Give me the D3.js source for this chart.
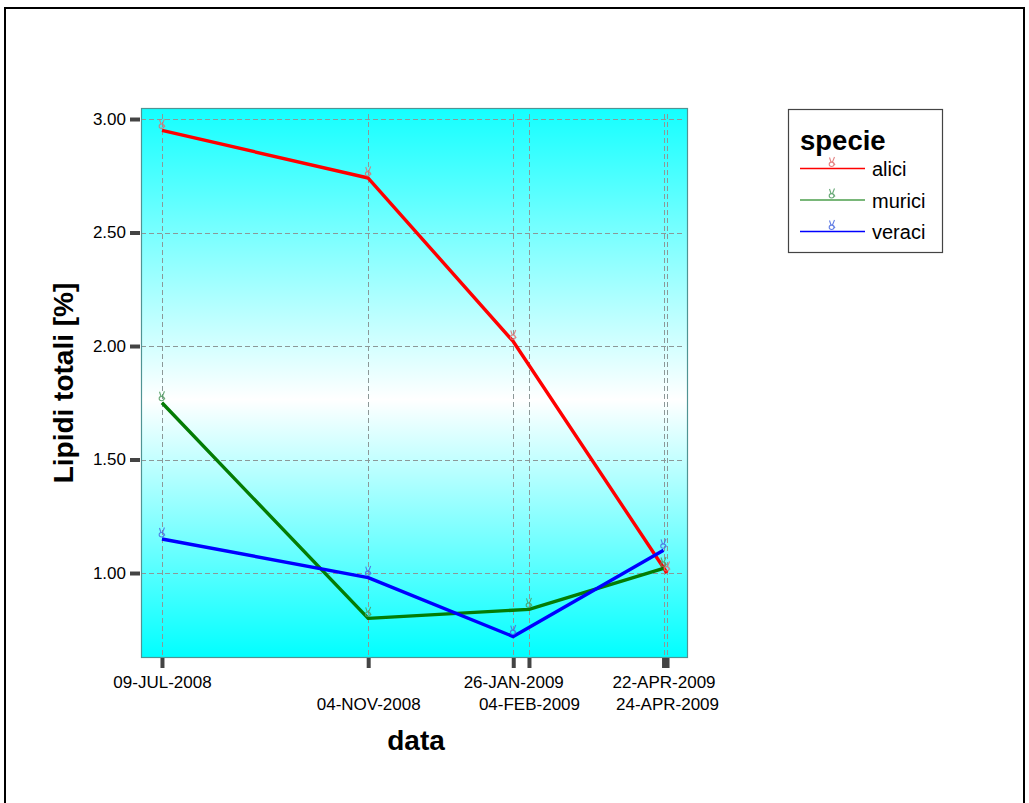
<!DOCTYPE html>
<html>
<head>
<meta charset="utf-8">
<script src="https://cdn.jsdelivr.net/npm/d3@7"></script>
<style>
  html, body { margin: 0; padding: 0; background: #fff; }
  svg { display: block; font-family: "Liberation Sans", Arial, sans-serif; }
</style>
</head>
<body>
<svg id="chart" width="1029" height="803"></svg>
<script>
// Sampling dates (x axis ticks)
const tickDates = ["2008-07-09", "2008-11-04", "2009-01-26", "2009-02-04", "2009-04-22", "2009-04-24"];
const tickLabels = ["09-JUL-2008", "04-NOV-2008", "26-JAN-2009", "04-FEB-2009", "22-APR-2009", "24-APR-2009"];
const yTicks = [1.0, 1.5, 2.0, 2.5, 3.0];

// Series: total lipids [%] per species
const speciesNames = ["alici", "murici", "veraci"];
const speciesColors = ["#ff0000", "#047c04", "#0000ff"];
const legendColors = ["#ff0000", "#4c9f4c", "#0000ff"];
const markerColors = ["#e07070", "#4f9a5f", "#4a6ae0"];
const aliciDates = ["2008-07-09", "2008-11-04", "2009-01-26", "2009-04-24"];
const aliciValues = [2.95, 2.74, 2.02, 1.00];
const muriciDates = ["2008-07-09", "2008-11-04", "2009-02-04", "2009-04-22"];
const muriciValues = [1.75, 0.80, 0.84, 1.02];
const veraciDates = ["2008-07-09", "2008-11-04", "2009-01-26", "2009-04-22"];
const veraciValues = [1.15, 0.98, 0.72, 1.10];

const parse = d3.utcParse("%Y-%m-%d");
const seriesDates = [aliciDates, muriciDates, veraciDates];
const seriesValues = [aliciValues, muriciValues, veraciValues];
const series = speciesNames.map((name, i) => ({
  name,
  color: speciesColors[i],
  marker: markerColors[i],
  points: seriesDates[i].map((d, j) => ({ date: parse(d), value: seriesValues[i][j] }))
}));

// Small "victory hand" point glyph, drawn above its anchor point
const markerPath = "M-2.5,-10 L-1,-5.5 M2.5,-10.5 L0.5,-5.5 M-2.8,-3.2 a2.4,2.2 0 1,0 4.8,0 a2.4,2.2 0 1,0 -4.8,0 M1.8,-4.5 L3,-2.5";

const svg = d3.select("#chart");

// Outer frame
svg.append("rect")
  .attr("x", 5).attr("y", 8).attr("width", 1019).attr("height", 810)
  .attr("fill", "none").attr("stroke", "#000").attr("stroke-width", 2);

const plot = { left: 141, top: 108, right: 688, bottom: 658 };

const x = d3.scaleUtc()
  .domain([parse("2008-06-27"), parse("2009-05-06")])
  .range([plot.left, plot.right]);
const y = d3.scaleLinear()
  .domain([0.6256, 3.0485])
  .range([plot.bottom, plot.top]);

// Background gradient
const defs = svg.append("defs");
const grad = defs.append("linearGradient")
  .attr("id", "bg").attr("x1", 0).attr("y1", 0).attr("x2", 0).attr("y2", 1);
grad.append("stop").attr("offset", "0%").attr("stop-color", "#14ffff");
grad.append("stop").attr("offset", "53%").attr("stop-color", "#ffffff");
grad.append("stop").attr("offset", "100%").attr("stop-color", "#00ffff");

svg.append("rect")
  .attr("x", plot.left).attr("y", plot.top)
  .attr("width", plot.right - plot.left).attr("height", plot.bottom - plot.top)
  .attr("fill", "url(#bg)");

// Grid lines
const grid = svg.append("g")
  .attr("stroke", "#8c9898").attr("stroke-width", 1).attr("stroke-dasharray", "5,3");
grid.selectAll("line.h").data(yTicks).join("line")
  .attr("x1", plot.left).attr("x2", plot.right - 6)
  .attr("y1", d => Math.round(y(d)) + 0.5).attr("y2", d => Math.round(y(d)) + 0.5);
grid.selectAll("line.v").data(tickDates).join("line")
  .attr("x1", d => Math.round(x(parse(d))) + 0.5).attr("x2", d => Math.round(x(parse(d))) + 0.5)
  .attr("y1", plot.top + 6).attr("y2", plot.bottom);

// Plot frame
svg.append("rect")
  .attr("x", plot.left + 0.5).attr("y", plot.top + 0.5)
  .attr("width", plot.right - plot.left - 1).attr("height", plot.bottom - plot.top - 1)
  .attr("fill", "none").attr("stroke", "#4f9494").attr("stroke-width", 1.2);

// Y axis
const yAxis = svg.append("g").attr("transform", `translate(${plot.left - 1},0)`)
  .call(d3.axisLeft(y).tickValues(yTicks).tickFormat(d3.format(".2f")).tickSize(10).tickPadding(4));
yAxis.select(".domain").remove();
yAxis.selectAll(".tick line").attr("stroke", "#444").attr("stroke-width", 4);
yAxis.selectAll(".tick text").attr("font-size", 17).attr("fill", "#000")
  .attr("font-family", "Liberation Sans, Arial, sans-serif");

// X axis with staggered labels
const xAxis = svg.append("g").attr("transform", `translate(0,${plot.bottom})`)
  .call(d3.axisBottom(x).tickValues(tickDates.map(parse))
    .tickFormat((d, i) => tickLabels[i]).tickSize(10).tickPadding(8));
xAxis.select(".domain").remove();
xAxis.selectAll(".tick line").attr("stroke", "#444").attr("stroke-width", 4);
xAxis.selectAll(".tick text").attr("font-size", 17).attr("fill", "#000")
  .attr("font-family", "Liberation Sans, Arial, sans-serif")
  .attr("dy", (d, i) => i % 2 === 0 ? "0.71em" : "2.0em");

// Axis titles
svg.append("text")
  .attr("transform", `translate(73,383) rotate(-90)`)
  .attr("text-anchor", "middle")
  .attr("font-size", 28).attr("font-weight", "bold")
  .text("Lipidi totali [%]");
svg.append("text")
  .attr("x", 416).attr("y", 750)
  .attr("text-anchor", "middle")
  .attr("font-size", 28).attr("font-weight", "bold")
  .text("data");

// Lines
const line = d3.line().x(d => x(d.date)).y(d => y(d.value));
svg.append("g").selectAll("path").data(series).join("path")
  .attr("d", d => line(d.points))
  .attr("fill", "none")
  .attr("stroke", d => d.color)
  .attr("stroke-width", 3.4)
  .attr("stroke-linejoin", "round");

// Point markers
svg.append("g").selectAll("g").data(series).join("g")
  .selectAll("path").data(d => d.points.map(p => ({ ...p, c: d.marker }))).join("path")
  .attr("transform", d => `translate(${x(d.date)},${y(d.value) - 1})`)
  .attr("d", markerPath)
  .attr("fill", "none")
  .attr("stroke", d => d.c)
  .attr("stroke-opacity", 0.85)
  .attr("stroke-width", 1.1);

// Legend
const lg = svg.append("g");
lg.append("rect")
  .attr("x", 788.5).attr("y", 109.5).attr("width", 154).attr("height", 143)
  .attr("fill", "#fff").attr("stroke", "#444").attr("stroke-width", 1.2);
lg.append("text")
  .attr("x", 800).attr("y", 150)
  .attr("font-size", 27.5).attr("font-weight", "bold")
  .text("specie");
const items = lg.selectAll("g.item").data(series).join("g")
  .attr("transform", (d, i) => `translate(0,${168 + i * 31.5})`);
items.append("line")
  .attr("x1", 800).attr("x2", 865).attr("y1", 0.5).attr("y2", 0.5)
  .attr("stroke", (d, i) => legendColors[i]).attr("stroke-width", 1.3);
items.append("path")
  .attr("transform", "translate(832,-0.5)")
  .attr("d", markerPath)
  .attr("fill", "none")
  .attr("stroke", d => d.marker).attr("stroke-opacity", 0.85)
  .attr("stroke-width", 1.1);
items.append("text")
  .attr("x", 872).attr("y", 8)
  .attr("font-size", 20)
  .text(d => d.name);
</script>
</body>
</html>
